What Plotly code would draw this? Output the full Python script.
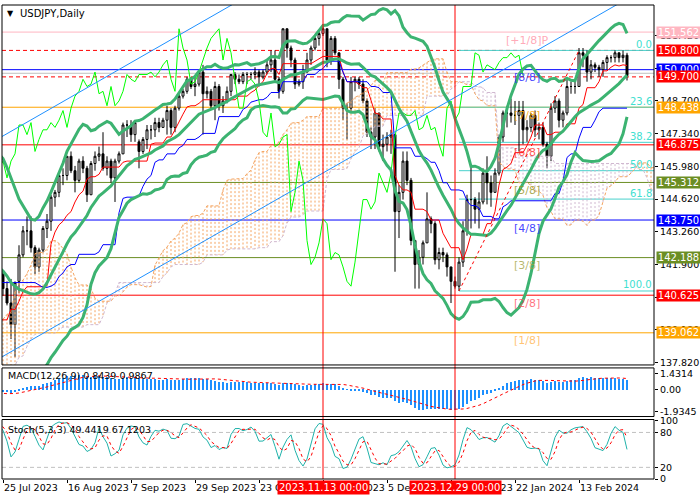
import numpy as np
import pandas as pd
import plotly.graph_objects as go

FONT = "DejaVu Sans"

# ---------------- data: 81 warm-up bars (Apr 3 - Jul 24 2023), used for indicators ----------------
PRE_HIGH = [133.0,132.7,131.9,132.0,132.4,133.7,133.8,134.0,133.6,134.0,134.6,134.7,135.1,134.9,134.5,134.7,134.6,134.0,134.2,136.6,
            137.8,137.5,136.7,134.9,135.0,135.2,135.5,135.5,134.9,136.0,136.4,136.7,137.7,138.7,138.8,138.7,138.9,139.7,140.2,140.9,140.9,140.9,140.2,
            139.6,140.1,140.4,139.8,140.2,140.2,139.9,139.7,140.3,140.5,141.5,141.9,142.0,142.2,142.0,143.2,143.9,143.7,144.0,144.6,145.0,145.1,
            144.9,144.7,144.7,144.7,144.1,142.5,141.4,140.5,138.9,139.0,139.4,139.4,139.9,140.3,142.0,141.9]
PRE_LOW = [131.8,131.3,130.6,130.9,131.3,132.1,133.1,132.6,132.2,132.3,133.6,133.8,133.9,134.0,133.6,133.9,133.4,133.0,133.3,133.5,
           136.3,136.3,134.6,133.5,133.5,134.6,134.8,134.0,133.7,134.4,135.5,135.9,136.3,137.5,137.4,137.7,138.2,138.4,139.3,139.6,140.2,139.6,139.0,
           138.4,138.8,139.4,139.3,139.0,139.0,139.0,139.2,139.3,139.5,139.9,139.9,141.3,141.4,141.0,141.6,142.9,143.0,143.2,143.6,144.4,144.1,
           144.2,144.2,143.7,143.5,142.1,141.0,140.2,138.5,137.7,137.2,138.1,138.1,138.9,139.6,139.8,141.2]
PRE_CLOSE = [132.4,131.6,131.3,131.8,132.1,133.6,133.7,133.1,132.6,133.8,134.5,134.1,134.7,134.2,134.2,134.3,133.7,133.6,133.9,136.3,
             137.5,136.6,134.7,134.3,134.8,135.1,135.2,134.4,134.5,135.7,136.1,136.4,137.6,138.7,137.9,138.6,138.6,139.5,140.1,140.6,140.4,139.8,139.3,
             138.8,139.9,139.6,139.6,140.1,139.3,139.4,139.6,140.2,140.0,140.3,141.8,141.9,141.5,141.9,143.1,143.7,143.5,143.6,144.5,144.8,144.3,
             144.7,144.5,144.6,143.9,142.1,141.3,140.4,138.5,138.1,138.8,138.8,139.3,139.7,140.1,141.8,141.5]

# ---------------- data: displayed daily bars (25 Jul 2023 - 29 Feb 2024) ----------------
OPEN = [141.5,140.9,140.3,139.4,141.2,142.3,143.3,143.3,142.6,141.8,
        142.5,143.4,143.7,144.7,144.9,145.6,145.6,146.4,145.8,145.4,
        146.2,145.9,144.8,146.1,146.4,146.5,145.9,146.2,145.5,146.2,
        146.5,147.7,147.7,147.3,147.0,146.6,147.1,147.5,147.5,147.8,
        147.6,147.9,148.3,147.6,148.4,148.9,149.1,149.6,149.3,149.4,
        149.9,149.0,149.1,148.5,149.3,148.5,148.7,149.1,149.8,149.6,
        149.5,149.8,149.8,149.8,149.9,149.7,149.9,150.2,150.4,149.6,
        149.1,151.7,150.9,150.4,149.4,149.5,149.9,150.4,150.9,151.3,
        151.5,151.7,150.4,151.3,150.7,149.6,148.4,148.4,149.5,149.6,
        149.4,148.7,147.4,147.2,148.2,146.8,146.9,147.2,147.3,144.1,
        144.9,146.2,145.4,142.9,141.9,142.2,142.8,143.8,143.6,142.1,
        142.4,142.3,141.8,141.2,141.0,142.0,143.3,144.6,144.6,144.2,
        144.5,145.7,145.3,144.9,145.7,147.2,148.2,148.2,148.1,148.1,
        148.3,147.5,147.6,148.1,147.5,147.6,146.9,146.4,148.4,148.7,
        147.9,148.2,149.3,149.3,149.3,150.7,150.6,149.9,150.2,150.1,
        150.0,150.3,150.5,150.5,150.7,150.5,150.6]
HIGH = [141.6,141.2,141.3,141.2,142.7,143.5,143.9,143.9,142.7,142.6,
        143.5,144.0,144.8,145.0,145.6,145.9,146.4,146.6,146.0,146.3,
        146.4,146.0,146.2,146.6,146.8,147.4,146.4,146.3,146.3,146.6,
        147.8,147.9,147.9,147.9,147.1,147.2,147.7,147.7,148.0,148.0,
        148.0,148.5,148.4,148.5,149.0,149.2,149.7,149.7,149.7,149.9,
        150.2,149.3,149.2,149.5,149.4,148.9,149.3,149.8,149.9,149.8,
        149.9,149.9,149.9,150.1,150.0,150.0,150.4,150.8,150.8,149.7,
        151.7,151.7,151.0,150.5,149.6,150.2,150.7,151.0,151.4,151.6,
        151.9,151.7,151.4,151.4,150.7,149.7,148.6,149.7,149.7,149.7,
        149.6,148.8,147.6,148.4,148.2,147.3,147.4,147.5,147.3,145.2,
        146.6,146.6,145.5,142.9,142.5,142.9,144.9,143.9,143.7,142.6,
        142.6,142.4,141.8,141.4,142.2,143.7,144.8,146.0,144.7,144.9,
        145.9,146.4,145.6,145.9,147.3,148.3,148.5,148.8,148.7,148.7,
        148.7,147.9,148.2,148.3,147.8,147.8,147.0,148.6,148.9,148.8,
        148.3,149.6,149.5,149.6,150.9,150.9,150.8,150.4,150.3,150.2,
        150.4,150.6,150.6,150.8,150.7,150.8,150.7]
LOW = [140.6,140.2,138.8,138.05,140.7,142.2,142.7,142.4,141.5,141.6,
       142.4,143.0,143.3,144.3,144.7,145.2,145.4,145.7,144.9,145.3,
       145.7,144.5,144.8,145.8,146.2,145.8,145.6,145.3,144.5,146.1,
       146.5,147.2,147.0,147.0,145.9,146.5,146.7,147.1,147.2,147.4,
       147.6,147.3,147.3,147.4,148.3,148.8,149.0,149.2,148.9,149.3,
       147.3,148.8,148.4,147.9,148.3,148.2,148.6,148.9,149.4,149.4,
       149.4,149.4,149.6,149.6,149.3,149.6,149.8,149.9,149.5,148.8,
       149.0,150.5,150.1,149.2,149.3,149.2,149.9,150.2,150.8,151.0,
       151.4,150.1,150.2,150.6,149.2,147.9,147.1,148.2,149.1,149.2,
       148.6,147.2,146.7,146.7,146.6,146.2,146.6,146.5,141.6,143.0,
       144.6,145.2,142.7,140.9,140.9,141.9,142.8,143.2,141.9,141.7,
       142.0,141.4,140.3,140.9,140.8,141.8,143.1,143.4,143.6,143.4,
       144.4,144.4,144.3,144.9,145.6,147.0,147.6,147.8,147.7,146.6,
       146.9,147.0,147.4,147.2,147.1,146.8,145.9,146.2,148.2,147.6,
       147.6,148.1,149.0,149.0,149.3,150.1,149.5,149.6,149.9,149.7,
       149.7,150.0,150.3,150.3,150.3,150.3,149.55]
CLOSE = [140.9,140.3,139.4,141.15,142.3,143.3,143.3,142.6,141.8,142.5,
         143.4,143.7,144.7,144.9,145.6,145.6,146.4,145.8,145.4,146.2,
         145.9,144.8,146.1,146.4,146.5,145.9,146.2,145.5,146.2,146.5,
         147.7,147.7,147.3,147.8,146.6,147.1,147.5,147.5,147.8,147.6,
         147.9,148.3,147.6,148.4,148.9,149.1,149.6,149.3,149.4,149.9,
         149.0,149.1,148.5,149.3,148.5,148.7,149.1,149.8,149.6,149.5,
         149.8,149.8,149.8,149.9,149.7,149.9,150.2,150.4,149.6,149.1,
         151.7,150.9,150.4,149.4,149.5,149.9,150.4,150.9,151.3,151.5,
         151.7,150.4,151.3,150.7,149.6,148.4,148.4,149.5,149.6,149.4,
         148.7,147.4,147.2,148.2,146.8,146.9,147.2,147.3,144.1,144.9,
         146.2,145.4,142.9,141.9,142.2,142.8,143.8,143.6,142.1,142.4,
         142.3,141.8,141.2,141.0,142.0,143.3,144.6,144.6,144.2,144.5,
         145.7,145.3,144.9,145.7,147.2,148.2,148.2,148.1,148.1,148.3,
         147.5,147.6,148.1,147.5,147.6,146.9,146.4,148.4,148.7,147.9,
         148.2,149.3,149.3,149.3,150.7,150.6,149.9,150.2,150.1,150.0,
         150.3,150.5,150.5,150.7,150.5,150.6,149.75]

# x-axis labels (MT4 places one every 16 bars)
XTICK_IDX = [0, 16, 32, 48, 64, 80, 96, 112, 128, 144]
XTICK_TEXT = ["25 Jul 2023", "16 Aug 2023", "7 Sep 2023", "29 Sep 2023", "23 Oct 2023",
              "13 Nov 2023", "5 Dec 2023", "28 Dec 2023", "22 Jan 2024", "13 Feb 2024"]
VLINE_IDX = [80, 113]
VLINE_TEXT = ["2023.11.13 00:00", "2023.12.29 00:00"]

# price-axis ticks
YTICKS = [137.82, 139.18, 140.54, 141.90, 143.26, 144.62, 145.98, 147.34, 148.70, 150.06, 151.42]

# Murrey math levels
MM_LEVELS = [151.562, 150.000, 148.438, 146.875, 145.312, 143.750, 142.188, 140.625, 139.062]
MM_NAMES = ["[+1/8]P", "[8/8]", "[7/8]", "[6/8]", "[5/8]", "[4/8]", "[3/8]", "[2/8]", "[1/8]"]
MM_COLORS = ["#FFB6C1", "#0000FF", "#FFA500", "#FF0000", "#6B8E23", "#0000FF", "#6B8E23", "#FF0000", "#FFA500"]
MM_TEXT_COLORS = ["rgba(255,160,175,0.9)", "rgba(40,40,255,0.85)", "rgba(255,165,0,0.85)", "rgba(255,40,40,0.8)",
                  "rgba(150,150,40,0.8)", "rgba(40,40,255,0.85)", "rgba(160,160,60,0.75)", "rgba(255,70,90,0.75)",
                  "rgba(255,185,90,0.85)"]
# dashed red high/low lines
DASH_LEVELS = [150.800, 149.700]
GREY_LEVEL = 149.85

# right-hand price labels
RL_VALUES = [151.562, 150.800, 150.000, 149.700, 148.438, 146.875, 145.312, 143.750, 142.188, 140.625, 139.062]
RL_TEXT = ["151.562", "150.800", "150.000", "149.700", "148.438", "146.875", "145.312", "143.750", "142.188", "140.625", "139.062"]
RL_COLORS = ["#FFB6C1", "#FF0000", "#0000FF", "#FF0000", "#FFA500", "#FF0000", "#6B8E23", "#0000FF", "#6B8E23", "#FF0000", "#FFA500"]

# Fibonacci retracement (Jan 2 low -> Feb 13 high)
FIB_IDX = [114, 144]
FIB_PRICE = [140.80, 150.80]
FIB_RATIOS = [0.0, 0.236, 0.382, 0.5, 0.618, 1.0]
FIB_TEXT = ["0.0", "23.6", "38.2", "50.0", "61.8", "100.0"]

# trend channel (two anchor points each)
CH_X = [-1, 163]
CH_LOW = [137.99, 153.61]
CH_HIGH = [147.15, 162.77]

MACD_TICKS = [1.4314, 0.0, -1.9345]
MACD_TICKTEXT = ["1.4314", "0.00", "-1.9345"]
STOCH_TICKS = [100, 80, 20, 0]
MACD_LABEL = "MACD(12,26,9) 0.8439 0.9867"
STOCH_LABEL = "Stoch(5,3,3) 49.4419 67.1203"
TITLE = "USDJPY,Daily"

# ---------------- indicators ----------------
NPRE = len(PRE_CLOSE)
H = pd.Series(PRE_HIGH + HIGH)
L = pd.Series(PRE_LOW + LOW)
C = pd.Series(PRE_CLOSE + CLOSE)
IDX = np.arange(-NPRE, len(CLOSE))

mid = C.rolling(20).mean()
sd = C.rolling(20).std(ddof=0)
bb_up, bb_lo = mid + 2 * sd, mid - 2 * sd

tenkan = (H.rolling(9).max() + L.rolling(9).min()) / 2
kijun = (H.rolling(26).max() + L.rolling(26).min()) / 2
spanA = (tenkan + kijun) / 2
spanB = (H.rolling(52).max() + L.rolling(52).min()) / 2
cloud_x = IDX + 26
chikou_x = IDX - 26

ema12 = C.ewm(span=12, adjust=False).mean()
ema26 = C.ewm(span=26, adjust=False).mean()
macd = ema12 - ema26
signal = macd.rolling(9).mean()

ll = L.rolling(5).min()
hh = H.rolling(5).max()
stk = 100 * (C - ll).rolling(3).sum() / (hh - ll).rolling(3).sum()
std_ = stk.rolling(3).mean()

# ---------------- geometry ----------------
W, HGT = 700, 500
ML, MR, MT, MB = 2, 46, 1, 21
PH = HGT - MT - MB  # 478
def py(p):  # pixel y -> paper y
    return (HGT - MB - p) / PH
def px(p):
    return (p - ML) / (W - ML - MR)

XR = [-0.25, 162.75]
MAIN_DOM = [py(364), 1.0]
MACD_DOM = [py(416), py(367)]
STO_DOM = [0.0, py(419)]

fig = go.Figure()

# cloud hatching
hx_up, hy_up, hx_dn, hy_dn = [], [], [], []
for x, a, b in zip(cloud_x, spanA, spanB):
    if np.isnan(a) or np.isnan(b) or x < -2 or x > 164:
        continue
    if a >= b:
        hx_up += [x, x, None]; hy_up += [a, b, None]
    else:
        hx_dn += [x, x, None]; hy_dn += [a, b, None]
fig.add_trace(go.Scatter(x=hx_up, y=hy_up, mode="lines", line=dict(color="#F4A460", width=1, dash="2px,2px"), yaxis="y", hoverinfo="skip"))
fig.add_trace(go.Scatter(x=hx_dn, y=hy_dn, mode="lines", line=dict(color="#D0B8D0", width=1, dash="2px,2px"), yaxis="y", hoverinfo="skip"))
fig.add_trace(go.Scatter(x=cloud_x, y=spanA, mode="lines", line=dict(color="#F4A460", width=1, dash="3px,2px"), yaxis="y", hoverinfo="skip"))
fig.add_trace(go.Scatter(x=cloud_x, y=spanB, mode="lines", line=dict(color="#D0B8D0", width=1, dash="3px,2px"), yaxis="y", hoverinfo="skip"))

# candles
fig.add_trace(go.Candlestick(x=np.arange(len(CLOSE)), open=OPEN, high=HIGH, low=LOW, close=CLOSE,
                             increasing=dict(line=dict(color="black", width=1), fillcolor="white"),
                             decreasing=dict(line=dict(color="black", width=1), fillcolor="black"),
                             whiskerwidth=0, yaxis="y", hoverinfo="skip"))

# Ichimoku lines
fig.add_trace(go.Scatter(x=IDX, y=tenkan, mode="lines", line=dict(color="#FF0000", width=1), yaxis="y"))
fig.add_trace(go.Scatter(x=IDX, y=kijun, mode="lines", line=dict(color="#0000FF", width=1), yaxis="y"))
fig.add_trace(go.Scatter(x=chikou_x, y=C, mode="lines", line=dict(color="#00FF00", width=1), yaxis="y"))
# Bollinger
for s in (bb_up, mid, bb_lo):
    fig.add_trace(go.Scatter(x=IDX, y=s, mode="lines", line=dict(color="#3CB371", width=3), yaxis="y"))
# trend channel
fig.add_trace(go.Scatter(x=CH_X, y=CH_LOW, mode="lines", line=dict(color="#1E90FF", width=1), yaxis="y"))
fig.add_trace(go.Scatter(x=CH_X, y=CH_HIGH, mode="lines", line=dict(color="#1E90FF", width=1), yaxis="y"))
# fib diagonal
fig.add_trace(go.Scatter(x=FIB_IDX, y=FIB_PRICE, mode="lines", line=dict(color="#FF0000", width=1, dash="3px,3px"), yaxis="y"))

# MACD
fig.add_trace(go.Bar(x=IDX, y=macd, width=0.4, marker=dict(color="#1E90FF", line=dict(width=0)), yaxis="y2"))
fig.add_trace(go.Scatter(x=IDX, y=signal, mode="lines", line=dict(color="#FF0000", width=1, dash="3px,3px"), yaxis="y2"))

# Stochastic
fig.add_trace(go.Scatter(x=IDX, y=stk, mode="lines", line=dict(color="#20B2AA", width=1), yaxis="y3"))
fig.add_trace(go.Scatter(x=IDX, y=std_, mode="lines", line=dict(color="#FF0000", width=1, dash="3px,3px"), yaxis="y3"))

shapes = []
# horizontal levels
for lv, col in zip(MM_LEVELS, MM_COLORS):
    shapes.append(dict(type="line", xref="paper", x0=0, x1=1, yref="y", y0=lv, y1=lv, line=dict(color=col, width=1), layer="below"))
for lv in DASH_LEVELS:
    shapes.append(dict(type="line", xref="paper", x0=0, x1=1, yref="y", y0=lv, y1=lv, line=dict(color="#FF0000", width=1, dash="4px,3px"), layer="below"))
shapes.append(dict(type="line", xref="paper", x0=0, x1=1, yref="y", y0=GREY_LEVEL, y1=GREY_LEVEL, line=dict(color="#C0C0C0", width=1), layer="below"))
fib_levels = [FIB_PRICE[1] - (FIB_PRICE[1] - FIB_PRICE[0]) * r for r in FIB_RATIOS]
for lv in fib_levels:
    shapes.append(dict(type="line", xref="x", x0=FIB_IDX[0], x1=XR[1], yref="y", y0=lv, y1=lv, line=dict(color="#48D1CC", width=1), layer="below"))
# stochastic levels
for lv in (80, 20):
    shapes.append(dict(type="line", xref="paper", x0=0, x1=1, yref="y3", y0=lv, y1=lv, line=dict(color="#C0C0C0", width=1, dash="4px,3px"), layer="below"))
# vertical lines
for vx in VLINE_IDX:
    shapes.append(dict(type="line", xref="x", x0=vx, x1=vx, yref="paper", y0=0, y1=1, line=dict(color="#FF0000", width=1), layer="above"))
# panel frames
for dom in (MAIN_DOM, MACD_DOM, STO_DOM):
    shapes.append(dict(type="rect", xref="paper", x0=0, x1=1, yref="paper", y0=dom[0], y1=dom[1], line=dict(color="black", width=1), fillcolor="rgba(0,0,0,0)", layer="above"))

ann = []
# Murrey labels
for lv, nm, tc in zip(MM_LEVELS, MM_NAMES, MM_TEXT_COLORS):
    ann.append(dict(x=131, xref="x", y=lv, yref="y", yshift=-8, text=nm, showarrow=False, font=dict(family=FONT, size=11, color=tc)))
# fib labels
for lv, t in zip(fib_levels, FIB_TEXT):
    ann.append(dict(x=1, xref="paper", xanchor="right", y=lv, yref="y", yshift=6, text=t, showarrow=False,
                    font=dict(family=FONT, size=10, color="#40E0D0")))
# x labels
for xi, t in zip(XTICK_IDX, XTICK_TEXT):
    ann.append(dict(x=xi, xref="x", xanchor="left", xshift=-1, y=py(488), yref="paper", yanchor="middle", text=t,
                    showarrow=False, font=dict(family=FONT, size=9.5, color="black")))
for xi, t in zip(VLINE_IDX, VLINE_TEXT):
    ann.append(dict(x=xi, xref="x", xanchor="center", y=py(488), yref="paper", yanchor="middle", text=t,
                    showarrow=False, bgcolor="#FF0000", borderpad=1, font=dict(family=FONT, size=10, color="white")))
# right price labels
for v, t, c in zip(RL_VALUES, RL_TEXT, RL_COLORS):
    ann.append(dict(x=px(656), xref="paper", xanchor="left", y=v, yref="y", yanchor="middle", text=t, bgcolor=c,
                    width=43, height=11, borderpad=0, showarrow=False, font=dict(family=FONT, size=10, color="white")))
# panel titles
ann.append(dict(x=px(18), xref="paper", xanchor="left", y=py(10), yref="paper", yanchor="middle", text=TITLE,
                showarrow=False, font=dict(family=FONT, size=10, color="black")))
ann.append(dict(x=px(10), xref="paper", xanchor="center", y=py(10), yref="paper", yanchor="middle", text="▼",
                showarrow=False, font=dict(family=FONT, size=8, color="black")))
ann.append(dict(x=px(6), xref="paper", xanchor="left", y=py(375), yref="paper", yanchor="middle", text=MACD_LABEL,
                showarrow=False, font=dict(family=FONT, size=9.5, color="black")))
ann.append(dict(x=px(6), xref="paper", xanchor="left", y=py(429), yref="paper", yanchor="middle", text=STOCH_LABEL,
                showarrow=False, font=dict(family=FONT, size=9.5, color="black")))

axis_font = dict(family=FONT, size=9.5, color="black")
fig.update_layout(
    width=W, height=HGT, margin=dict(l=ML, r=MR, t=MT, b=MB),
    paper_bgcolor="white", plot_bgcolor="white", showlegend=False, bargap=0,
    xaxis=dict(range=XR, anchor="y3", showgrid=False, zeroline=False, showticklabels=False,
               tickvals=XTICK_IDX, ticks="outside", ticklen=3, tickcolor="black", rangeslider=dict(visible=False)),
    yaxis=dict(domain=MAIN_DOM, range=[137.725, 152.688], side="right", anchor="x", showgrid=False, zeroline=False,
               tickvals=YTICKS, ticktext=["%.3f" % v for v in YTICKS], ticks="outside", ticklen=3, tickcolor="black",
               tickfont=axis_font),
    yaxis2=dict(domain=MACD_DOM, range=[-2.348, 1.913], side="right", anchor="x", showgrid=False, zeroline=False,
                tickvals=MACD_TICKS, ticktext=MACD_TICKTEXT, ticks="outside", ticklen=3, tickcolor="black", tickfont=axis_font),
    yaxis3=dict(domain=STO_DOM, range=[0, 102.2], side="right", anchor="x", showgrid=False, zeroline=False,
                tickvals=STOCH_TICKS, ticktext=[str(v) for v in STOCH_TICKS], ticks="outside", ticklen=3, tickcolor="black",
                tickfont=axis_font),
    shapes=shapes, annotations=ann,
)
fig.write_html("out.html")
